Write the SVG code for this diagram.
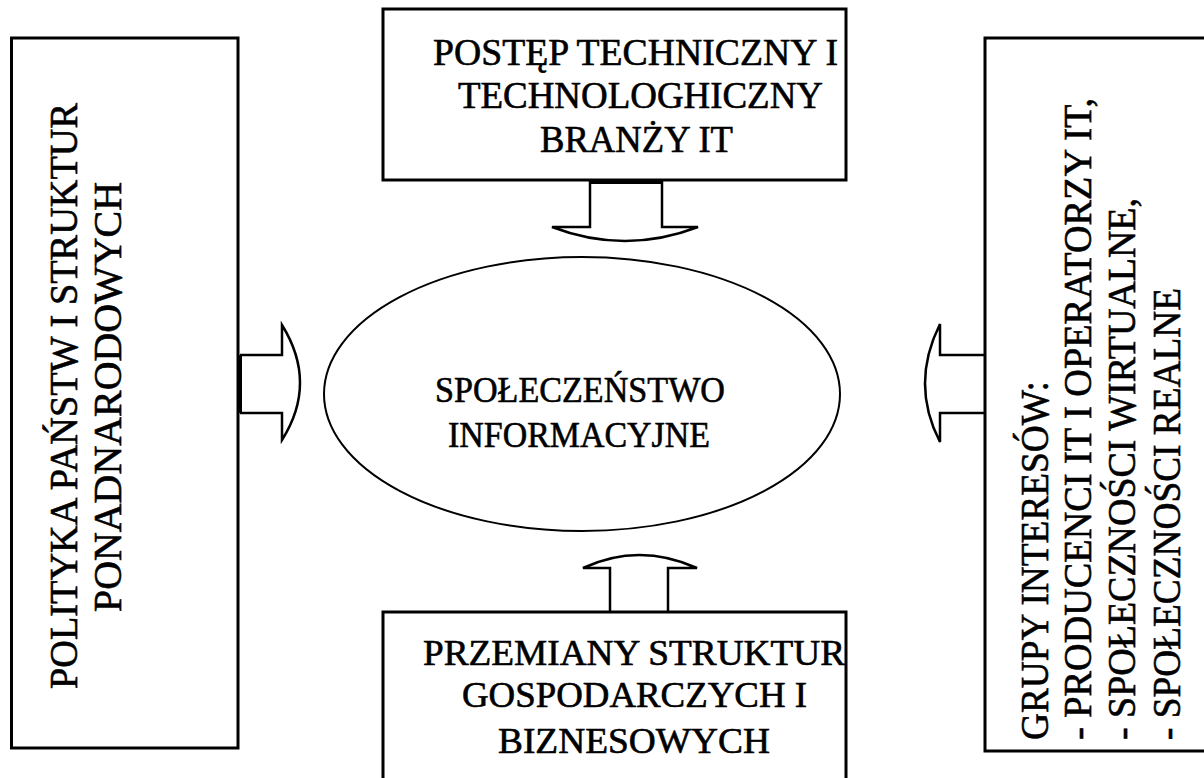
<svg xmlns="http://www.w3.org/2000/svg" width="1204" height="778" viewBox="0 0 1204 778">
  <style>
    .box { fill: #fff; stroke: #000; stroke-width: 3; }
    .ell { fill: #fff; stroke: #000; stroke-width: 2; }
    .arr { fill: none; stroke: #000; stroke-width: 2.5; stroke-linejoin: miter; }
    .t { font-family: "Liberation Serif", "Times New Roman", serif; fill: #000; stroke: #000; stroke-width: 0.6; }
  </style>
  <rect width="1204" height="778" fill="#fff"/>

  <g id="connectors">
    <path class="arr" d="M590,180 L590,227 L552,227 Q625,255 698,227 L662,227 L662,180"/>
    <rect x="590" y="179" width="72" height="5" fill="#000"/>
    <path class="arr" d="M610,612 L610,568 L583,568 Q639,542 697,568 L668,568 L668,612"/>
    <path class="arr" d="M240,355 L282,355 L282,325 Q318,383 282,440 L282,413 L240,413"/>
    <rect x="237" y="355" width="5" height="58" fill="#000"/>
    <path class="arr" d="M985,355 L940,355 L940,324 Q910,384 940,442 L940,413 L985,413"/>
  </g>

  <g id="node-left">
    <rect class="box" x="11.5" y="38" width="226.5" height="710"/>
    <g transform="translate(77,396) rotate(-90)">
      <text class="t" font-size="41" x="0" y="0" text-anchor="middle" textLength="586" lengthAdjust="spacingAndGlyphs">POLITYKA PAŃSTW I STRUKTUR</text>
    </g>
    <g transform="translate(121,397) rotate(-90)">
      <text class="t" font-size="41" x="0" y="0" text-anchor="middle" textLength="430" lengthAdjust="spacingAndGlyphs">PONADNARODOWYCH</text>
    </g>
  </g>

  <g id="node-top">
    <rect class="box" x="383" y="9" width="463" height="171"/>
    <text class="t" font-size="37" x="433" y="65" textLength="405" lengthAdjust="spacingAndGlyphs">POSTĘP TECHNICZNY I</text>
    <text class="t" font-size="37" x="458" y="108" textLength="365" lengthAdjust="spacingAndGlyphs">TECHNOLOGHICZNY</text>
    <text class="t" font-size="37" x="540" y="152" textLength="193" lengthAdjust="spacingAndGlyphs">BRANŻY IT</text>
  </g>

  <g id="node-center">
    <ellipse class="ell" cx="582" cy="394" rx="258" ry="137"/>
    <text class="t" font-size="36" x="435" y="402" textLength="290" lengthAdjust="spacingAndGlyphs">SPOŁECZEŃSTWO</text>
    <text class="t" font-size="36" x="448" y="447" textLength="262" lengthAdjust="spacingAndGlyphs">INFORMACYJNE</text>
  </g>

  <g id="node-bottom">
    <rect class="box" x="383" y="612" width="463" height="190"/>
    <text class="t" font-size="35" x="423" y="665" textLength="422" lengthAdjust="spacingAndGlyphs">PRZEMIANY STRUKTUR</text>
    <text class="t" font-size="35" x="462" y="707" textLength="345" lengthAdjust="spacingAndGlyphs">GOSPODARCZYCH I</text>
    <text class="t" font-size="35" x="498" y="753" textLength="272" lengthAdjust="spacingAndGlyphs">BIZNESOWYCH</text>
  </g>

  <g id="node-right">
    <rect class="box" x="985" y="38" width="230" height="713"/>
    <g transform="translate(1048,740) rotate(-90)">
      <text class="t" font-size="41" x="0" y="0" textLength="359" lengthAdjust="spacingAndGlyphs">GRUPY INTERESÓW:</text>
    </g>
    <g transform="translate(1091,740) rotate(-90)">
      <text class="t" font-size="41" x="0" y="0" textLength="642" lengthAdjust="spacingAndGlyphs">- PRODUCENCI IT I OPERATORZY IT,</text>
    </g>
    <g transform="translate(1135,740) rotate(-90)">
      <text class="t" font-size="41" x="0" y="0" textLength="542" lengthAdjust="spacingAndGlyphs">- SPOŁECZNOŚCI WIRTUALNE,</text>
    </g>
    <g transform="translate(1180,740) rotate(-90)">
      <text class="t" font-size="41" x="0" y="0" textLength="452" lengthAdjust="spacingAndGlyphs">- SPOŁECZNOŚCI REALNE</text>
    </g>
  </g>
</svg>
